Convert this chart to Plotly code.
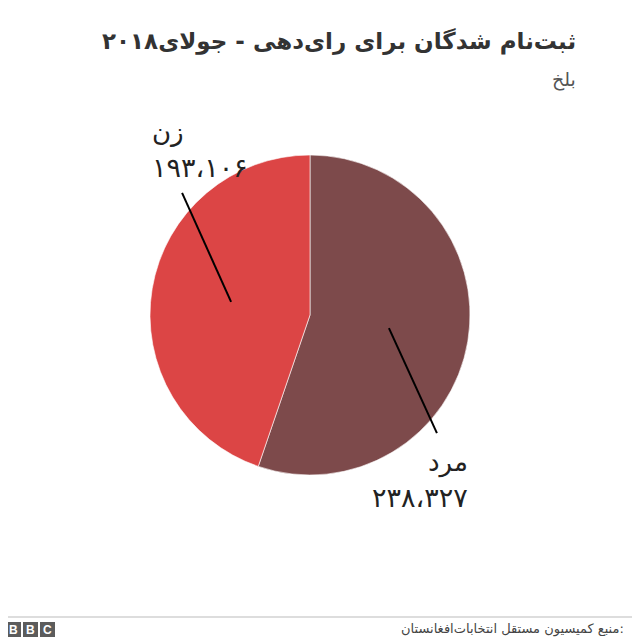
import math
import plotly.graph_objects as go

labels = ["مرد", "زن"]
values = [238327, 193106]
value_text = ["۲۳۸،۳۲۷", "۱۹۳،۱۰۶"]
colors = ["#7d4a4b", "#dc4545"]

title = "ثبت‌نام شدگان برای رای‌دهی - جولای۲۰۱۸"
subtitle = "بلخ"
source = "منبع کمیسیون مستقل انتخابات‌افغانستان:"

OFF = 8          # page body margin
W = H = 632      # figure size inside 640 window


def px2x(x):
    return (x - OFF) / W


def px2y(y):
    return 1 - (y - OFF) / H


cx, cy, R = 310, 315, 160  # pixel geometry of pie in window
dom_x = [px2x(cx - R), px2x(cx + R)]
dom_y = [px2y(cy + R), px2y(cy - R)]

fig = go.Figure(go.Pie(
    labels=labels, values=values, sort=False, direction="clockwise",
    rotation=0, textinfo="none", hoverinfo="label+value",
    marker=dict(colors=colors, line=dict(color="white", width=0.6)),
    domain=dict(x=dom_x, y=dom_y), showlegend=False,
))

total = sum(values)
shapes = []
annotations = []
start = 0.0
cfg = [
    dict(dx=48, dy=105, lx=470, ly_lab=463, ly_num=497, xanchor="right"),
    dict(dx=-49, dy=-109, lx=150, ly_lab=132, ly_num=167, xanchor="left"),
]
for i, v in enumerate(values):
    frac = v / total
    mid = (start + frac / 2) * 2 * math.pi
    start += frac
    px = cx + 0.5 * R * math.sin(mid)
    py = cy - 0.5 * R * math.cos(mid)
    c = cfg[i]
    qx, qy = px + c["dx"], py + c["dy"]
    shapes.append(dict(type="line", xref="paper", yref="paper",
                       x0=px2x(px), y0=px2y(py), x1=px2x(qx), y1=px2y(qy),
                       line=dict(color="black", width=2)))
    annotations.append(dict(x=px2x(c["lx"]), y=px2y(c["ly_lab"]), xref="paper", yref="paper",
                            text=labels[i], showarrow=False, xanchor=c["xanchor"], yanchor="middle",
                            font=dict(family="DejaVu Sans", size=26, color="#222222")))
    annotations.append(dict(x=px2x(c["lx"]), y=px2y(c["ly_num"]), xref="paper", yref="paper",
                            text=value_text[i], showarrow=False, xanchor=c["xanchor"], yanchor="middle",
                            font=dict(family="DejaVu Sans", size=27, color="#222222")))

annotations.append(dict(x=px2x(578), y=px2y(41), xref="paper", yref="paper", text="<b>" + title + "</b>",
                        showarrow=False, xanchor="right", yanchor="middle",
                        font=dict(family="DejaVu Sans", size=23, color="#333333")))
annotations.append(dict(x=px2x(578), y=px2y(80), xref="paper", yref="paper", text=subtitle,
                        showarrow=False, xanchor="right", yanchor="middle",
                        font=dict(family="DejaVu Sans", size=19, color="#555555")))
annotations.append(dict(x=px2x(626), y=px2y(629), xref="paper", yref="paper", text=source,
                        showarrow=False, xanchor="right", yanchor="middle",
                        font=dict(family="DejaVu Sans", size=13, color="#444444")))
shapes.append(dict(type="line", xref="paper", yref="paper", x0=0, x1=1,
                   y0=px2y(617), y1=px2y(617), line=dict(color="#bbbbbb", width=1)))
for x0, letter in [(6, "B"), (23, "B"), (40, "C")]:
    shapes.append(dict(type="rect", xref="paper", yref="paper",
                       x0=px2x(x0), x1=px2x(x0 + 15), y0=px2y(637), y1=px2y(622),
                       fillcolor="#5c5c5c", line=dict(width=0)))
    annotations.append(dict(x=px2x(x0 + 7.5), y=px2y(629.5), xref="paper", yref="paper",
                            text="<b>" + letter + "</b>", showarrow=False, xanchor="center", yanchor="middle",
                            font=dict(family="Liberation Sans", size=12, color="white")))

fig.update_layout(width=W, height=H, margin=dict(l=0, r=0, t=0, b=0),
                  paper_bgcolor="white", plot_bgcolor="white",
                  shapes=shapes, annotations=annotations)
fig.write_html("out.html")
